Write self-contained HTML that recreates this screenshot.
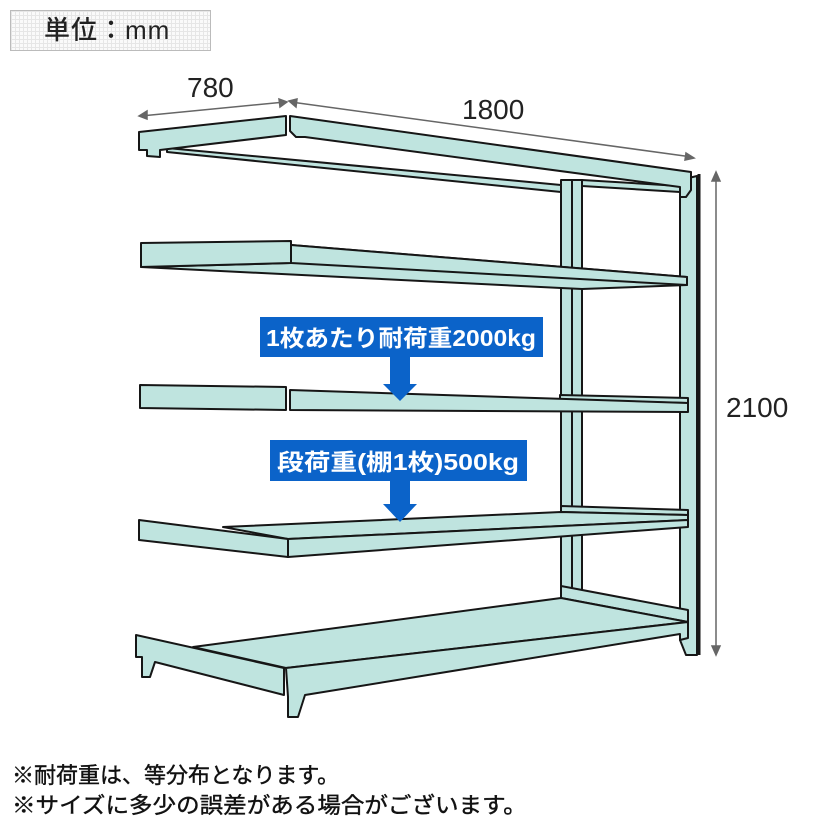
<!DOCTYPE html>
<html><head><meta charset="utf-8"><style>
html,body{margin:0;padding:0;background:#fff;}
body{width:830px;height:830px;position:relative;overflow:hidden;font-family:"Liberation Sans","Noto Sans CJK JP",sans-serif;}
.hdr{position:absolute;left:10px;top:10px;width:199px;height:39px;border:1px solid #bbb;background-color:#fafafa;
background-image:linear-gradient(#e6e6e6 1px,transparent 1px),linear-gradient(90deg,#e6e6e6 1px,transparent 1px);background-size:4px 4px;
font-size:26px;line-height:39px;text-indent:33px;color:#222;letter-spacing:1px;font-weight:500;}
.note{position:absolute;left:12px;font-size:22px;color:#111;white-space:nowrap;transform-origin:0 0;-webkit-text-stroke:0.4px #111;}
</style></head><body>
<div class="hdr">単位：mm</div>
<svg width="830" height="830" style="position:absolute;left:0;top:0">
<g fill="#bfe4df" stroke="#161616" stroke-width="2" stroke-linejoin="round">
<rect x="561" y="180" width="11" height="440"/>
<rect x="572" y="180" width="10" height="440"/>
<path d="M680,180 L697,176 L697,655 L686,655 L680,640 Z"/>
<line x1="699" y1="174" x2="699" y2="655" stroke-width="3"/>
<path d="M167,148 L561,185 L561,192 L167,152 Z"/>
<path d="M582,180 L680,186 L680,192 L582,186 Z"/>
<path d="M139,132 L286,116 L286,135 L160,150 L160,157 L147,156 L147,150 L139,150 Z"/>
<path d="M290,116 L691,172 L691,190 L686,197 L680,197 L680,187 L305,137 L296,137 L290,131 Z"/>
<path d="M141,267 L561,288 L582,289 L687,285 L687,277 L291,245 L291,263 Z"/>
<path d="M141,243 L291,241 L291,263 L141,267 Z"/>
<path d="M291,245 L687,277 L687,285 L291,263 Z"/>
<path d="M560,395 L688,398 L688,403 L560,400 Z"/>
<path d="M140,385 L286,387 L286,410 L140,408 Z"/>
<path d="M290,390 L688,403 L688,412 L290,410 Z"/>
<path d="M561,506 L688,510 L688,515 L561,512 Z"/>
<path d="M223,527 L561,512 L688,515 L688,520 L288,539 Z"/>
<path d="M139,520 L288,539 L288,557 L139,540 Z"/>
<path d="M288,539 L688,520 L688,527 L288,557 Z"/>
<path d="M561,586 L688,610 L688,622 L561,598 Z"/>
<path d="M193,647 L561,598 L688,622 L286,668 Z"/>
<path d="M136,635 L284,668 L284,695 L155,662 L150,677 L142,677 L142,657 L136,657 Z"/>
<path d="M286,668 L688,622 L688,638 L680,640 L680,634 L305,695 L298,717 L288,717 L288,697 Z"/>
</g>
<g stroke="#666" stroke-width="1.5" fill="#666">
<line x1="141" y1="116" x2="285" y2="102"/>
<path d="M139,116 l8,-5 l0,8 Z M287,102 l-8,-3 l1,8 Z"/>
<line x1="291" y1="102" x2="692" y2="157"/>
<path d="M289,101 l8,-2 l-1,8 Z M694,158 l-8,-5 l-1,7 Z"/>
<line x1="716" y1="176" x2="716" y2="652"/>
<path d="M716,172 l-4,9 l8,0 Z M716,655 l-4,-9 l8,0 Z"/>
</g>
<g font-family="Liberation Sans, sans-serif" font-size="28" fill="#222">
<text x="187" y="97">780</text>
<text x="462" y="119">1800</text>
<text x="726" y="417">2100</text>
</g>
<g fill="#0b63c9">
<rect x="260" y="317" width="283" height="40"/>
<rect x="390" y="357" width="20" height="28"/>
<path d="M383,384 L417,384 L400,401 Z"/>
<rect x="270" y="440" width="257" height="41"/>
<rect x="390" y="481" width="20" height="24"/>
<path d="M383,504 L417,504 L400,522 Z"/>
</g>
<g fill="#fff" font-family="Liberation Sans, Noto Sans CJK JP, sans-serif" font-size="23" font-weight="bold">
<text x="401" y="346" text-anchor="middle" textLength="270" lengthAdjust="spacingAndGlyphs">1枚あたり耐荷重2000kg</text>
<text x="398" y="470" text-anchor="middle" textLength="242" lengthAdjust="spacingAndGlyphs">段荷重(棚1枚)500kg</text>
</g>
</svg>
<div class="note" style="top:758px">※耐荷重は、等分布となります。</div>
<div class="note" style="top:788px;transform:scaleX(1.07)">※サイズに多少の誤差がある場合がございます。</div>
</body></html>
